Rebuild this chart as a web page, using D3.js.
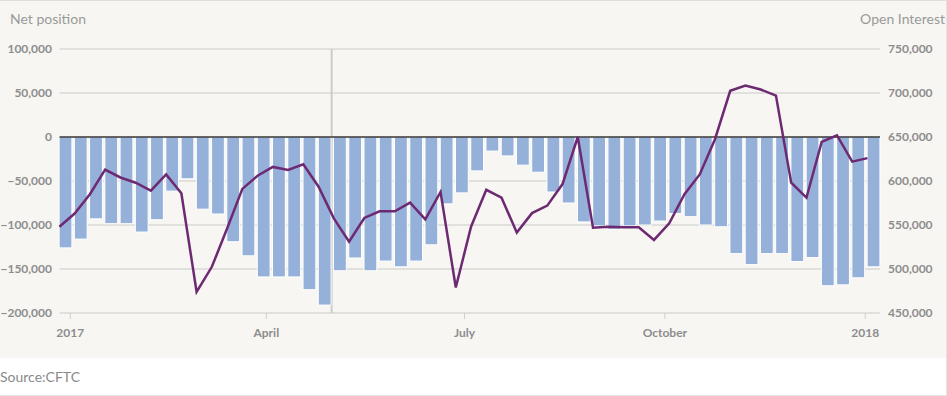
<!DOCTYPE html>
<html>
<head>
<meta charset="utf-8">
<script src="https://cdnjs.cloudflare.com/ajax/libs/d3/7.8.5/d3.min.js"></script>
<style>
  html, body { margin: 0; padding: 0; background: #fff; }
  svg { display: block; font-family: Lato, "Open Sans", sans-serif; }
</style>
</head>
<body>
<svg id="chart" width="947" height="396"></svg>
<script>
// weekly CFTC report dates (Tuesdays)
const weeks = [
  '2016-12-27', '2017-01-03', '2017-01-10', '2017-01-17', '2017-01-24', '2017-01-31',
  '2017-02-07', '2017-02-14', '2017-02-21', '2017-02-28', '2017-03-07', '2017-03-14',
  '2017-03-21', '2017-03-28', '2017-04-04', '2017-04-11', '2017-04-18', '2017-04-25',
  '2017-05-02', '2017-05-09', '2017-05-16', '2017-05-23', '2017-05-30', '2017-06-06',
  '2017-06-13', '2017-06-20', '2017-06-27', '2017-07-04', '2017-07-11', '2017-07-18',
  '2017-07-25', '2017-08-01', '2017-08-08', '2017-08-15', '2017-08-22', '2017-08-29',
  '2017-09-05', '2017-09-12', '2017-09-19', '2017-09-26', '2017-10-03', '2017-10-10',
  '2017-10-17', '2017-10-24', '2017-10-31', '2017-11-07', '2017-11-14', '2017-11-21',
  '2017-11-28', '2017-12-05', '2017-12-12', '2017-12-19', '2017-12-26', '2018-01-02'
];

// net position (contracts)
const netPosition = [
  -126000, -116000, -93000, -98500, -98500, -108000, -94000, -61500, -47500, -82000,
  -87500, -119000, -135000, -159000, -159000, -159000, -173500, -191000, -152000, -137500,
  -152000, -141000, -147500, -141000, -122500, -76000, -63500, -38500, -16000, -21500,
  -32000, -40000, -62500, -75000, -96500, -101000, -105000, -101000, -100000, -95500,
  -87000, -90500, -100000, -102000, -132500, -145000, -132500, -132500, -141500, -137000,
  -169000, -168000, -160000, -147500
];

// open interest (contracts)
const openInterest = [
  548000, 563000, 585000, 613000, 604000, 598000, 589000, 607500, 586000, 474000,
  502500, 546000, 591000, 606000, 616000, 612500, 619000, 593500, 557500, 531000,
  558000, 565500, 565500, 575500, 556500, 587500, 479000, 548000, 590000, 581000,
  541500, 563500, 572000, 596500, 650000, 547000, 548000, 547500, 547500, 533000,
  552000, 585000, 607500, 647500, 702500, 708500, 704000, 697000, 598000, 581000,
  644500, 652000, 622000, 626000
];

const leftTicks = [-200000, -150000, -100000, -50000, 0, 50000, 100000];
const rightTicks = [450000, 500000, 550000, 600000, 650000, 700000, 750000];
const monthTicks = ['2017-01-01', '2017-04-01', '2017-07-01', '2017-10-01', '2018-01-01'];
const monthLabels = ['2017', 'April', 'July', 'October', '2018'];
const markerDate = '2017-05-01';

const parse = d3.utcParse('%Y-%m-%d');
const W = 947, H = 396;
const svg = d3.select('#chart');

// panel background and frame
svg.append('rect').attr('x', 0).attr('y', 0).attr('width', W).attr('height', 358)
  .attr('fill', '#f7f6f2');
svg.append('line').attr('x1', 0).attr('x2', W).attr('y1', 0.5).attr('y2', 0.5)
  .attr('stroke', '#dedede');
svg.append('line').attr('x1', W - 0.5).attr('x2', W - 0.5).attr('y1', 0).attr('y2', H)
  .attr('stroke', '#e4e4e4');
svg.append('line').attr('x1', 0).attr('x2', W).attr('y1', H - 0.5).attr('y2', H - 0.5)
  .attr('stroke', '#e4e4e4');

const x = d3.scaleUtc()
  .domain([parse('2016-12-27'), parse('2018-01-08')])
  .range([59.4, 880.5]);
const y = d3.scaleLinear().domain([-200000, 100000]).range([313, 49]);
const y2 = d3.scaleLinear().domain([450000, 750000]).range([313, 49]);

const fmt = d3.format(',');
const gridLeft = 59.5, gridRight = 880;

// gridlines
svg.append('g').selectAll('line').data(leftTicks.filter(d => d !== 0)).join('line')
  .attr('x1', gridLeft).attr('x2', gridRight)
  .attr('y1', d => y(d)).attr('y2', d => y(d))
  .attr('stroke', '#d9d8d5').attr('stroke-width', 1.6);

// left axis labels
svg.append('g').selectAll('text').data(leftTicks).join('text')
  .attr('x', 52).attr('y', d => y(d)).attr('dy', '0.35em')
  .attr('text-anchor', 'end')
  .attr('fill', '#8d8d8d').attr('font-size', 12).attr('font-weight', 700)
  .text(d => fmt(d));

// right axis labels
svg.append('g').selectAll('text').data(rightTicks).join('text')
  .attr('x', 888).attr('y', d => y2(d)).attr('dy', '0.35em')
  .attr('text-anchor', 'start')
  .attr('fill', '#8d8d8d').attr('font-size', 12).attr('font-weight', 700)
  .text(d => fmt(d));

// x ticks
const xt = svg.append('g');
xt.selectAll('line').data(monthTicks).join('line')
  .attr('x1', d => x(parse(d))).attr('x2', d => x(parse(d)))
  .attr('y1', 313).attr('y2', 319)
  .attr('stroke', '#cfcfcf').attr('stroke-width', 1);
xt.selectAll('text').data(monthTicks).join('text')
  .attr('x', d => x(parse(d))).attr('y', 333).attr('dy', '0.35em')
  .attr('text-anchor', 'middle')
  .attr('fill', '#8d8d8d').attr('font-size', 12).attr('font-weight', 700)
  .text((d, i) => monthLabels[i]);

// marker line
svg.append('line')
  .attr('x1', x(parse(markerDate))).attr('x2', x(parse(markerDate)))
  .attr('y1', 49).attr('y2', 313)
  .attr('stroke', '#cccccc').attr('stroke-width', 2);

// bars
svg.append('g').selectAll('rect').data(weeks).join('rect')
  .attr('x', d => x(parse(d)) - 0.3)
  .attr('width', 12.8)
  .attr('y', (d, i) => y(Math.max(0, netPosition[i])))
  .attr('height', (d, i) => Math.abs(y(netPosition[i]) - y(0)))
  .attr('fill', '#95b1d9')
  .attr('stroke', '#ffffff').attr('stroke-width', 1);

// zero line
svg.append('line').attr('x1', gridLeft).attr('x2', gridRight)
  .attr('y1', y(0)).attr('y2', y(0))
  .attr('stroke', '#333').attr('stroke-width', 1.5);

// open interest line
const line = d3.line()
  .x((d, i) => x(parse(weeks[i])))
  .y(d => y2(d));
svg.append('path').datum(openInterest)
  .attr('d', line)
  .attr('fill', 'none')
  .attr('stroke', '#6d2a72').attr('stroke-width', 2.5);

// titles
svg.append('text').attr('x', 10).attr('y', 24)
  .attr('fill', '#9a9a9a').attr('font-size', 14)
  .text('Net position');
svg.append('text').attr('x', 945).attr('y', 24).attr('text-anchor', 'end')
  .attr('fill', '#9a9a9a').attr('font-size', 14)
  .text('Open Interest');
svg.append('text').attr('x', 0).attr('y', 382)
  .attr('fill', '#8a8a8a').attr('font-size', 14)
  .text('Source:CFTC');
</script>
</body>
</html>
